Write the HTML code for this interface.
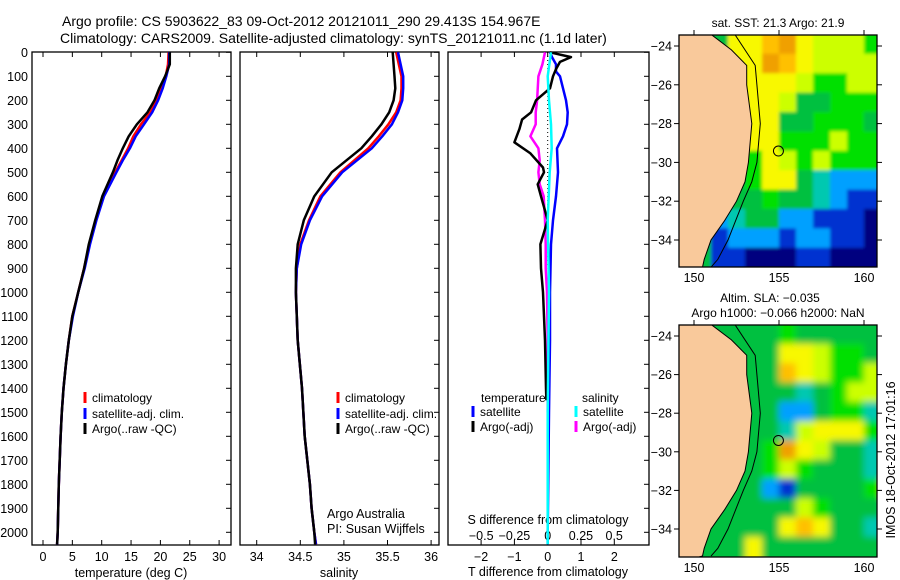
<!DOCTYPE html>
<html><head><meta charset="utf-8"><style>
body{margin:0;background:#fff}
svg{display:block;font-family:"Liberation Sans",sans-serif}
text{fill:#000}
</style></head><body>
<svg id="s" width="900" height="580" viewBox="0 0 900 580">
<defs>
<filter id="blurA" filterUnits="userSpaceOnUse" x="600" y="0" width="300" height="580"><feGaussianBlur stdDeviation="1.5" edgeMode="duplicate"/></filter>
<filter id="blurB" filterUnits="userSpaceOnUse" x="600" y="0" width="300" height="580"><feGaussianBlur stdDeviation="3.5" edgeMode="duplicate"/></filter>
</defs>
<text x="62" y="26" font-size="14">Argo profile: CS 5903622_83 09-Oct-2012 20121011_290 29.413S 154.967E</text>
<text x="60" y="43" font-size="14">Climatology: CARS2009. Satellite-adjusted climatology: synTS_20121011.nc (1.1d later)</text>
</svg>
<script>
// ---------- data ----------
const depthT = [0,50,100,150,200,250,300,350,400,450,500,600,700,800,900,1000,1100,1200,1300,1400,1500,1600,1800,2000,2050];
const tempArgo = [21.6,21.6,20.8,19.8,19.0,17.8,16.0,14.6,13.6,12.7,11.9,10.1,8.9,7.8,7.0,6.0,5.0,4.4,3.9,3.5,3.2,3.0,2.7,2.5,2.4];
const tempClim = [21.4,21.3,20.9,20.2,19.4,18.3,16.7,15.4,14.5,13.4,12.3,10.3,9.0,7.9,7.0,6.0,5.0,4.4,3.9,3.5,3.2,3.0,2.7,2.5,2.4];
const tempSat  = [21.5,21.5,21.0,20.4,19.6,18.6,17.2,15.8,14.8,13.6,12.5,10.4,9.1,8.0,7.1,6.0,5.1,4.4,3.9,3.5,3.2,3.0,2.7,2.5,2.4];
const depthS = [0,50,100,150,200,250,300,350,400,450,500,600,700,800,900,1000,1200,1400,1600,1800,1900,2000,2050];
const salArgo = [35.56,35.57,35.58,35.59,35.57,35.52,35.43,35.32,35.20,35.03,34.86,34.66,34.54,34.47,34.45,34.45,34.47,34.52,34.55,34.61,34.63,34.66,34.67];
const salClim = [35.60,35.63,35.66,35.66,35.65,35.60,35.51,35.40,35.28,35.12,34.96,34.73,34.60,34.50,34.46,34.45,34.47,34.52,34.55,34.61,34.63,34.66,34.68];
const salSat  = [35.62,35.65,35.68,35.68,35.67,35.62,35.55,35.44,35.32,35.15,34.98,34.75,34.61,34.51,34.46,34.45,34.47,34.52,34.55,34.61,34.63,34.66,34.68];
const depthD = [0,20,40,70,100,150,200,250,280,320,375,420,480,500,550,600,700,800,900,1000,1200,1400,1450];
const dTArgo = [0.07,0.7,0.37,0.25,0.16,0.07,-0.35,-0.5,-0.77,-0.85,-1.0,-0.53,-0.14,-0.11,-0.3,-0.2,0.0,-0.22,-0.2,-0.14,-0.08,-0.05,-0.04];
const depthD2 = [0,20,50,80,100,150,200,250,300,350,400,500,600,700,800,1000,1200,1500,2000,2050];
const dTSat = [0.07,0.13,0.25,0.25,0.37,0.46,0.55,0.6,0.58,0.46,0.28,0.31,0.25,0.16,0.1,0.07,0.07,0.04,0.0,0.0];
const depthD3 = [0,50,100,200,250,300,350,400,450,500,550,600,700,800,900,1000,1200,1500];
const dSArgo = [-0.02,-0.04,-0.07,-0.08,-0.09,-0.09,-0.13,-0.07,-0.06,-0.07,-0.06,-0.03,-0.02,-0.015,-0.015,-0.005,0.0,0.0];
const depthD4 = [0,100,200,300,400,500,700,1000,1500,2050];
const dSSat = [0.025,0.0,0.01,0.025,0.03,0.015,0.0,0.01,0.0,0.0];
const depthTicks = [0,100,200,300,400,500,600,700,800,900,1000,1100,1200,1300,1400,1500,1600,1700,1800,1900,2000];
const tempTicks = [0,5,10,15,20,25,30];
const salTicks = [34,34.5,35,35.5,36];
const dTTicks = [-2,-1,0,1,2];
const dSTicks = [-0.5,-0.25,0,0.25,0.5];
const lonTicks = [150,155,160];
const latTicks = [-24,-26,-28,-30,-32,-34];
const sstGrid = [
"4447789766656",
"4447798766666",
"4447777655666",
"4447776445554",
"4447774455544",
"4447775556555",
"4445576565556",
"4444577432222",
"4444454432111",
"4423442211100",
"4412221221100",
"4411000110000"];
const slaGrid = [
"4444445444444",
"4444447765544",
"4444448765565",
"4444444345664",
"4444442245534",
"4444443677754",
"4444459764435",
"4444456544434",
"4444421444456",
"4444444654443",
"4444447874432",
"4444744444444"];
const coastLon = [151.0,152.2,153.1,153.1,153.4,153.2,153.0,152.5,151.8,151.0,150.6,150.5];
const coastLat = [-23.4,-24.2,-25,-26,-28,-30,-31,-32,-33,-34,-35,-35.4];
const shelfLon = [152.4,153.6,153.7,153.9,153.7,153.4,152.9,152.0,151.4,151.0];
const shelfLat = [-23.4,-25,-26,-28,-30,-31,-32,-34,-35,-35.4];
const argoLon = 154.967, argoLat = -29.413;

// ---------- helpers ----------
const S = document.getElementById('s');
const NS = 'http://www.w3.org/2000/svg';
function mk(tag, attrs, parent){const e=document.createElementNS(NS,tag);for(const k in attrs)e.setAttribute(k,attrs[k]);(parent||S).appendChild(e);return e;}
const yD = d => 52.3 + d*0.24;
const Y0=52, Y1=545;

function panel(x0,x1,name){
  const r=mk('rect',{x:x0,y:Y0,width:x1-x0,height:Y1-Y0,fill:'none',stroke:'#000','stroke-width':1.3});
  
  
  depthTicks.forEach(d=>{
    const l=mk('line',{x1:x1-5,x2:x1,y1:yD(d),y2:yD(d),stroke:'#000'});
    
    
  });
}
function xTicks(vals,fx,name,labelY,lab){
  vals.forEach(v=>{
    const x=fx(v);
    const a=mk('line',{x1:x,x2:x,y1:Y0,y2:Y0+5,stroke:'#000'});
    
    
    const b=mk('line',{x1:x,x2:x,y1:Y1-5,y2:Y1,stroke:'#000'});
    
    
    if(lab){const t=mk('text',{x:x,y:labelY,'font-size':12.5,'text-anchor':'middle'});t.textContent=String(v).replace('-','\u2212');
      
      }
  });
}
function line(xs,ds,fx,color,name,w){
  const p=xs.map((v,i)=>fx(v).toFixed(1)+','+yD(ds[i]).toFixed(1)).join(' ');
  const e=mk('polyline',{points:p,fill:'none',stroke:color,'stroke-width':w||2.5,'stroke-linejoin':'round'});
  
  
}
function txt(x,y,s,size,name,anchor){const t=mk('text',{x:x,y:y,'font-size':size,'text-anchor':anchor||'start'});t.textContent=s;
  
  return t;}
function legend(x,y,color,label,name){
  const l=mk('line',{x1:x,x2:x,y1:y-10,y2:y+1,stroke:color,'stroke-width':3});
  
  
  txt(x+7,y,label,12,name);
}

depthTicks.forEach(d=>{txt(28,yD(d)+4.5,String(d),12.5,'depth-label','end');});

// ---- panel 1 temperature
const xT=v=>43+5.87*v;
panel(32,231,'temperature-panel');
xTicks(tempTicks,xT,'temp',561,true);
txt(131,577,'temperature (deg C)',12.5,'temp-axis-title','middle');
line(tempClim,depthT,xT,'#f00','temp-climatology');
line(tempSat,depthT,xT,'#00f','temp-satellite');
line(tempArgo,depthT,xT,'#000','temp-argo');
legend(85,402,'#f00','climatology','legend-climatology');
legend(85,418,'#00f','satellite-adj. clim.','legend-satellite');
legend(85,433,'#000','Argo(..raw -QC)','legend-argo');

// ---- panel 2 salinity
const xS=v=>256.7+87.2*(v-34);
panel(240,439,'salinity-panel');
xTicks(salTicks,xS,'sal',561,true);
txt(339,577,'salinity',12.5,'sal-axis-title','middle');
line(salClim,depthS,xS,'#f00','sal-climatology');
line(salSat,depthS,xS,'#00f','sal-satellite');
line(salArgo,depthS,xS,'#000','sal-argo');
legend(338,402,'#f00','climatology','legend2-climatology');
legend(338,418,'#00f','satellite-adj. clim.','legend2-satellite');
legend(338,433,'#000','Argo(..raw -QC)','legend2-argo');
txt(327,518,'Argo Australia',12.5,'credit-line-1');
txt(327,533,'PI: Susan Wijffels',12.5,'credit-line-2');

// ---- panel 3 differences
const xdT=v=>547.7+33.3*v;
const xdS=v=>547.7+133*v;
panel(448,649,'difference-panel');
xTicks(dTTicks,xdT,'dT',561,true);
dSTicks.forEach(v=>txt(xdS(v),540,String(v).replace('-','\u2212'),12.5,'dS-tick-label','middle'));
txt(548,524,'S difference from climatology',12.5,'dS-axis-title','middle');
txt(548,576,'T difference from climatology',12.5,'dT-axis-title','middle');
const z=mk('line',{x1:xdT(0),x2:xdT(0),y1:Y0,y2:yD(900),stroke:'#000','stroke-dasharray':'1,3'});


line(dSArgo,depthD3,xdS,'#f0f','dS-argo');
line(dTSat,depthD2,xdT,'#00f','dT-satellite');
line(dTArgo,depthD,xdT,'#000','dT-argo');
line(dSSat,depthD4,xdS,'#0ff','dS-satellite');
txt(481,402,'temperature',12,'legend3-temp-heading');
legend(473,416,'#00f','satellite','legend3-t-satellite');
legend(473,431,'#000','Argo(-adj)','legend3-t-argo');
txt(582,402,'salinity',12,'legend3-sal-heading');
legend(576,416,'#0ff','satellite','legend3-s-satellite');
legend(576,431,'#f0f','Argo(-adj)','legend3-s-argo');

// ---- maps
const cols=['#00007f','#0030d0','#00a0ff','#00c8b0','#00c040','#00e000','#ccff00','#f8f800','#ffc000','#f0a000'];
function map(top,bot,lat24,lat34,grid,name,filt){
  const MX0=679,MX1=877;
  const mx=lon=>694+17*(lon-150);
  const py=(lat34-lat24)/10;
  const my=lat=>lat24+(-24-lat)*py;
  const g=mk('g',{});
  
  
  const cp=mk('clipPath',{id:name+'-clip'},g);mk('rect',{x:MX0,y:top,width:MX1-MX0,height:bot-top},cp);
  const inner=mk('g',{'clip-path':'url(#'+name+'-clip)'},g);
  const cells=mk('g',{filter:'url(#'+filt+')'},inner);
  grid.forEach((row,r)=>{for(let c=0;c<row.length;c++){
    const lon=149+c, lat=-23.4-r;
    const h = (r===grid.length-1)? py*2 : py+0.5;
    const cell=mk('rect',{x:mx(lon),y:my(lat)-(r===0?py:0),width:17.5,height:h+(r===0?py:0),fill:cols[+row[c]]},cells);
    
    
  }});
  let pts=coastLon.map((v,i)=>mx(v)+','+my(coastLat[i])).join(' ');
  pts+=' '+mx(148)+','+my(-36)+' '+mx(148)+','+my(-23);
  const land=mk('polygon',{points:pts,fill:'#f9c99b',stroke:'#000','stroke-width':1},inner);
  
  
  const sh=mk('polyline',{points:shelfLon.map((v,i)=>mx(v)+','+my(shelfLat[i])).join(' '),fill:'none',stroke:'#000','stroke-width':1},inner);
  
  
  const c=mk('circle',{cx:mx(argoLon),cy:my(argoLat),r:5,fill:'none',stroke:'#000','stroke-width':1},g);
  
  
  const fr=mk('rect',{x:MX0,y:top,width:MX1-MX0,height:bot-top,fill:'none',stroke:'#000','stroke-width':1.3},g);
  
  
  lonTicks.forEach(v=>{
    const a=mk('line',{x1:mx(v),x2:mx(v),y1:top-5,y2:top,stroke:'#000'},g);
    
    
    txt(mx(v),bot+15,String(v),12.5,'lon-label','middle');
  });
  latTicks.forEach(v=>{
    const a=mk('line',{x1:MX0-5,x2:MX0,y1:my(v),y2:my(v),stroke:'#000'},g);
    
    
    const b=mk('line',{x1:MX1,x2:MX1+5,y1:my(v),y2:my(v),stroke:'#000'},g);
    
    
    txt(MX0-7,my(v)+4.5,String(v).replace('-','\u2212'),12.5,'lat-label','end');
  });
}
map(35,267,46,240,sstGrid,'sst-map','blurA');
txt(778,27,'sat. SST: 21.3 Argo: 21.9',12,'sst-map-title','middle');
map(325,557,336,529,slaGrid,'sla-map','blurB');
txt(770,302,'Altim. SLA: \u22120.035',12,'sla-map-title','middle');
txt(778,317,'Argo h1000: \u22120.066 h2000: NaN',12,'sla-map-subtitle','middle');
const v=txt(0,0,'IMOS 18-Oct-2012 17:01:16',12.5,'timestamp','middle');
v.setAttribute('transform','translate(895,460) rotate(-90)');
</script>
</body></html>
